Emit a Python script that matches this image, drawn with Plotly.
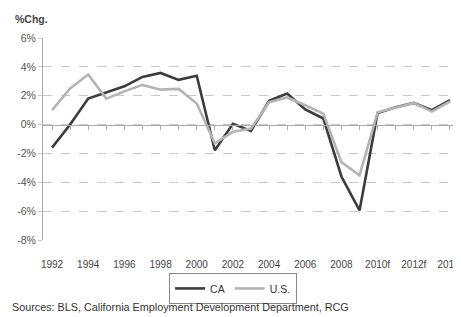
import plotly.graph_objects as go

years = list(range(1992, 2015))
ca = [-1.6, 0.0, 1.8, 2.2, 2.65, 3.3, 3.58, 3.1, 3.38, -1.78, 0.05, -0.44, 1.65, 2.15, 1.05, 0.42, -3.6, -5.95, 0.8, 1.2, 1.5, 1.0, 1.7]
us = [1.0, 2.5, 3.47, 1.8, 2.3, 2.75, 2.42, 2.47, 1.46, -1.3, -0.5, -0.28, 1.55, 1.88, 1.34, 0.76, -2.6, -3.52, 0.85, 1.2, 1.5, 0.9, 1.6]
tick_years = list(range(1992, 2015, 2))
tick_text = ["1992", "1994", "1996", "1998", "2000", "2002", "2004", "2006", "2008", "2010f", "2012f", "2014f"]
y_ticks = [-8, -6, -4, -2, 0, 2, 4, 6]
y_text = [f"{v}%" for v in y_ticks]

FONT = "Liberation Sans, Arial, sans-serif"

fig = go.Figure()
# helper trace bound to the zero-line axis with per-year tick marks
fig.add_trace(go.Scatter(x=years, y=ca, xaxis="x2", yaxis="y", mode="lines",
                         line=dict(color="rgba(0,0,0,0)", width=0),
                         showlegend=False, hoverinfo="skip"))
fig.add_trace(go.Scatter(x=years, y=ca, name="CA", mode="lines",
                         line=dict(color="#3c3c3c", width=2.6)))
fig.add_trace(go.Scatter(x=years, y=us, name="U.S.", mode="lines",
                         line=dict(color="#b4b4b4", width=2.6)))

# page body has an 8px margin, so the figure is 8px smaller and shifted
fig.update_layout(
    width=453, height=309,
    margin=dict(l=35, r=2, t=30, b=77, autoexpand=False),
    paper_bgcolor="white", plot_bgcolor="white",
    font=dict(family=FONT, size=10, color="#444"),
    showlegend=True,
    legend=dict(orientation="h", x=0.457, xanchor="center", y=-0.163, yanchor="top",
                bordercolor="#888", borderwidth=1, font=dict(size=10.5, color="#333"),
                itemwidth=30, tracegroupgap=0),
    xaxis=dict(range=[1991.5, 2014.5], tickvals=tick_years, ticktext=tick_text,
               showgrid=False, showline=False, zeroline=False, ticks="",
               automargin=False, ticklabeloverflow="allow",
               ticklabelstandoff=17, tickfont=dict(size=10, color="#444")),
    xaxis2=dict(range=[1991.5, 2014.5], overlaying="x", anchor="free", position=8/14,
                showline=True, linecolor="#aaaaaa", linewidth=1, ticks="outside",
                ticklen=4, tickcolor="#aaaaaa", dtick=1, tick0=1992, automargin=False,
                showticklabels=False, showgrid=False, zeroline=False),
    yaxis=dict(range=[-8, 6], tickvals=y_ticks, ticktext=y_text, automargin=False,
               showgrid=True, gridcolor="#c8c8c8", griddash="dash", gridwidth=1,
               zeroline=False, showline=True, linecolor="#aaaaaa", linewidth=1,
               ticks="outside", ticklen=4, tickcolor="#c8c8c8",
               tickfont=dict(size=10.5, color="#555")),
    annotations=[
        dict(text="<b>%Chg.</b>", xref="paper", yref="paper", x=-0.072, y=1.094,
             xanchor="left", yanchor="middle", showarrow=False,
             font=dict(size=10.5, color="#444")),
        dict(text="Sources: BLS, California Employment Development Department, RCG",
             xref="paper", yref="paper", x=-0.079, y=-0.332, xanchor="left",
             yanchor="middle", showarrow=False, font=dict(size=10.8, color="#333")),
    ],
)

fig.write_html("out.html")
